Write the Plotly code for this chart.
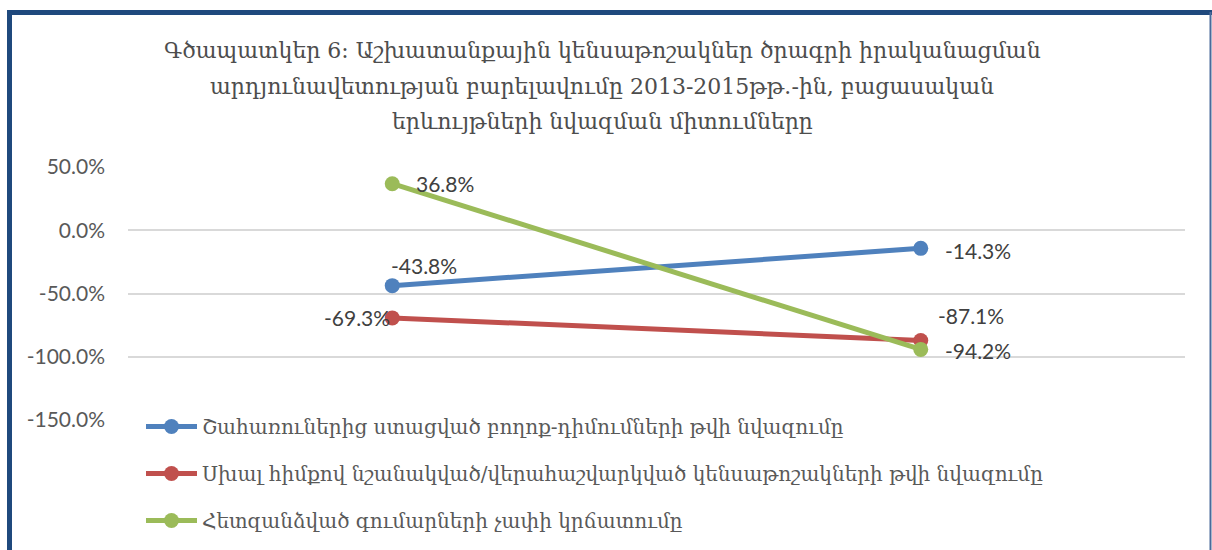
import plotly.graph_objects as go

categories = ["2014", "2015"]
series_names = [
    "Շահառուներից ստացված բողոք-դիմումների թվի նվազումը",
    "Սխալ հիմքով նշանակված/վերահաշվարկված կենսաթոշակների թվի նվազումը",
    "Հետզանձված գումարների չափի կրճատումը",
]
blue_vals = [-0.438, -0.143]
red_vals = [-0.693, -0.871]
green_vals = [0.368, -0.942]
tick_vals = [0.5, 0.0, -0.5, -1.0, -1.5]
tick_text = ["50.0%", "0.0%", "-50.0%", "-100.0%", "-150.0%"]
title_lines = [
    "Գծապատկեր 6: Աշխատանքային կենսաթոշակներ ծրագրի իրականացման",
    "արդյունավետության բարելավումը 2013-2015թթ․-ին, բացասական",
    "երևույթների նվազման միտումները",
]

colors = ["#4F81BD", "#C0504D", "#9BBB59"]
all_vals = [blue_vals, red_vals, green_vals]

W, H = 1212, 550
ML, MR, MT, MB = 128, 27, 167, 130
PW, PH = W - ML - MR, H - MT - MB

def px(x):
    return (x - ML) / PW

def py(y):
    return 1 - (y - MT) / PH

fig = go.Figure()
for name, vals, c in zip(series_names, all_vals, colors):
    fig.add_trace(go.Scatter(
        x=categories, y=vals, name=name, mode="lines+markers",
        line=dict(color=c, width=5), marker=dict(color=c, size=15),
        legendgroup=name, hoverinfo="skip",
    ))

# label placements: (series index, point index, xanchor, xshift, yshift)
label_style = [
    (0, 0, "center", 32, 20),
    (0, 1, "left", 22, -2),
    (1, 0, "right", 0, 0),
    (1, 1, "center", 50, 25),
    (2, 0, "left", 22, 0),
    (2, 1, "left", 22, -1),
]
for si, pi, xa, xs, ys in label_style:
    v = all_vals[si][pi]
    fig.add_annotation(
        xref="x", yref="y", x=pi, y=v, text=f"{v*100:.1f}%", showarrow=False,
        xanchor=xa, yanchor="middle", xshift=xs, yshift=ys,
        font=dict(family="Lato, Liberation Sans, sans-serif", size=21, color="#404040"),
    )

for i, line in enumerate(title_lines):
    fig.add_annotation(
        xref="paper", yref="paper", x=px(602), y=py(50 + 36 * i), xanchor="center", yanchor="middle",
        text=line, showarrow=False,
        font=dict(family="DejaVu Serif, serif", size=22, color="#4D4D4D"),
    )

border = "#1F497D"
fig.add_shape(type="line", xref="paper", yref="paper", x0=px(7), x1=px(1212), y0=py(12.5), y1=py(12.5),
              line=dict(color=border, width=5), layer="above")
fig.add_shape(type="line", xref="paper", yref="paper", x0=px(9.5), x1=px(9.5), y0=py(10), y1=py(560),
              line=dict(color=border, width=5), layer="above")
fig.add_shape(type="line", xref="paper", yref="paper", x0=px(1210.5), x1=px(1210.5), y0=py(12), y1=py(560),
              line=dict(color="#4A6A9A", width=2), layer="above")

fig.update_layout(
    width=W, height=H,
    margin=dict(l=ML, r=MR, t=MT, b=MB, autoexpand=False),
    paper_bgcolor="white", plot_bgcolor="white",
    showlegend=True,
    legend=dict(
        x=px(141), y=py(407), xanchor="left", yanchor="top",
        font=dict(family="DejaVu Serif, serif", size=20, color="#595959"),
        bgcolor="rgba(0,0,0,0)", tracegroupgap=18, traceorder="grouped",
        itemwidth=51,
    ),
    xaxis=dict(type="category", range=[-0.5, 1.5], showticklabels=False, showgrid=False,
               zeroline=False, showline=False, fixedrange=True),
    yaxis=dict(range=[-1.5, 0.5], tickvals=tick_vals, ticktext=tick_text,
               showgrid=True, gridcolor="#D9D9D9", gridwidth=2, zeroline=False, showline=False,
               ticks="", ticklabelstandoff=22,
               tickfont=dict(family="Lato, Liberation Sans, sans-serif", size=21, color="#595959")),
)

fig.write_html("out.html", config={"displayModeBar": False},
               post_script="document.body.style.margin='0';document.body.style.overflow='hidden';")
